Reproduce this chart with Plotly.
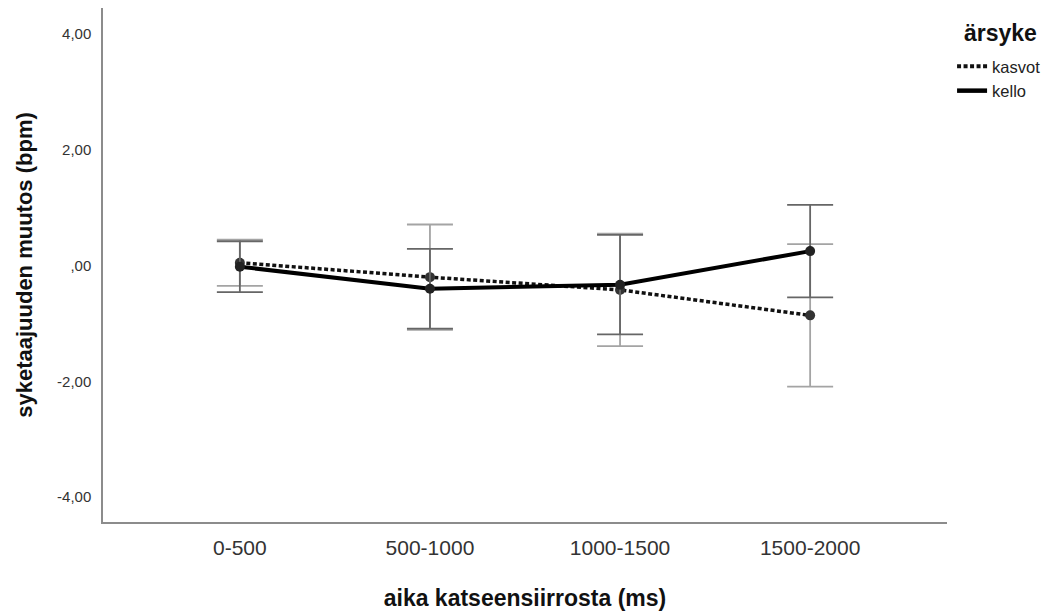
import plotly.graph_objects as go

categories = ["0-500", "500-1000", "1000-1500", "1500-2000"]
kasvot_mean = [0.05, -0.20, -0.42, -0.86]
kasvot_err = [0.40, 0.91, 0.97, 1.23]
kello_mean = [-0.02, -0.40, -0.33, 0.25]
kello_err = [0.44, 0.69, 0.86, 0.80]
ytick_vals = [-4, -2, 0, 2, 4]
ytick_text = ["-4,00", "-2,00", ",00", "2,00", "4,00"]
legend_title = "ärsyke"

x_idx = list(range(len(categories)))

KASVOT_DASH = "4px,2.5px"

fig = go.Figure()
fig.add_trace(go.Scatter(
    x=x_idx, y=kasvot_mean, name="kasvot", mode="lines+markers", showlegend=False,
    line=dict(color="#111111", width=3.5, dash=KASVOT_DASH),
    marker=dict(color="#333333", size=10),
    error_y=dict(type="data", array=kasvot_err, visible=True,
                 color="#a4a4a4", thickness=1.8, width=23),
))
fig.add_trace(go.Scatter(
    x=x_idx, y=kello_mean, name="kello", mode="lines+markers", showlegend=False,
    line=dict(color="#000000", width=4),
    marker=dict(color="#222222", size=10),
    error_y=dict(type="data", array=kello_err, visible=True,
                 color="#666666", thickness=1.8, width=23),
))
# legend entries (line only, as in the reference)
fig.add_trace(go.Scatter(x=[None], y=[None], name="kasvot", mode="lines",
                         line=dict(color="#111111", width=4, dash=KASVOT_DASH)))
fig.add_trace(go.Scatter(x=[None], y=[None], name="kello", mode="lines",
                         line=dict(color="#000000", width=4.5)))

# page body has an 8px margin: shrink the figure so the plot lands where it should
fig.update_layout(
    width=1047, height=607,
    margin=dict(l=95, r=108, t=0, b=93),
    plot_bgcolor="white", paper_bgcolor="white",
    font=dict(family="Liberation Sans, Arial, sans-serif", color="#222222"),
    showlegend=True,
    legend=dict(
        x=1.006, xanchor="left", y=0.9203, yanchor="top",
        font=dict(size=16.5, color="#222222"),
        bgcolor="rgba(0,0,0,0)", tracegroupgap=0,
    ),
    annotations=[dict(
        text="<b>" + legend_title + "</b>", xref="paper", yref="paper",
        x=1.0628, y=0.9514, xanchor="center", yanchor="middle", showarrow=False,
        font=dict(size=23, color="#111111"),
    )],
)
fig.update_xaxes(
    range=[-0.72, 3.72], tickvals=x_idx, ticktext=categories,
    showgrid=False, zeroline=False, showline=True, linecolor="#8c8c8c", linewidth=1.5,
    ticks="", tickfont=dict(size=21, color="#333333"), ticklabelstandoff=6,
    automargin=False,
    title=dict(text="<b>aika katseensiirrosta (ms)</b>", font=dict(size=23, color="#111111"), standoff=32),
)
fig.update_yaxes(
    range=[-4.43, 4.45], tickvals=ytick_vals, ticktext=ytick_text,
    showgrid=False, zeroline=False, showline=True, linecolor="#8c8c8c", linewidth=1.5,
    ticks="", tickfont=dict(size=15, color="#333333"), ticklabelstandoff=7,
    automargin=False,
    title=dict(text="<b>syketaajuuden muutos (bpm)</b>", font=dict(size=22, color="#111111"), standoff=18),
)

fig.write_html("out.html")
